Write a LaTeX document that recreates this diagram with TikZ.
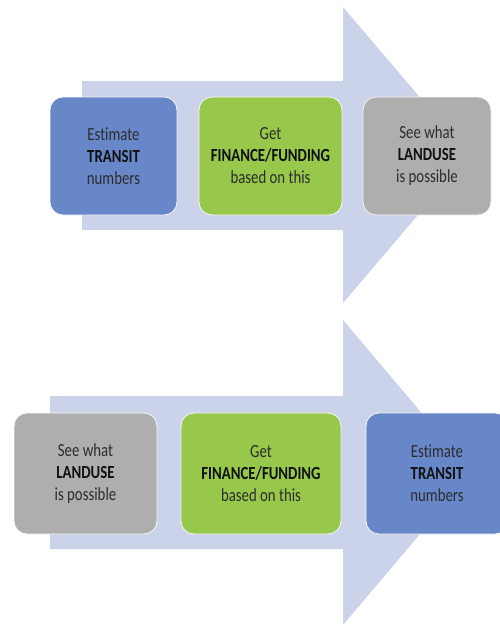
\documentclass[tikz,border=0pt]{standalone}
\usepackage{fontspec}
\setmainfont{Carlito}[FakeStretch=0.8, Ligatures={NoCommon}]
\definecolor{arrowC}{HTML}{CBD3EA}
\definecolor{blueC}{HTML}{6787C9}
\definecolor{greenC}{HTML}{97C84B}
\definecolor{greyC}{HTML}{AEAEAE}
\definecolor{txtC}{HTML}{2C2C2C}
\definecolor{boldC}{HTML}{111111}
\tikzset{
  box/.style={rounded corners=13pt, draw=white!70!black!10, line width=0.8pt,
    align=center, inner sep=0pt, text=txtC,
    font=\fontsize{18.5}{22}\selectfont},
  bigarrow/.style={fill=arrowC, draw=none}
}
\newcommand{\bw}[1]{\textbf{\textcolor{boldC}{#1}}}
\begin{document}
\begin{tikzpicture}[x=1pt,y=-1pt]
\useasboundingbox (0,0) rectangle (499,624);
% top arrow
\fill[bigarrow] (82,81) -- (343,81) -- (343,7) -- (469,155) -- (343,303) -- (343,230) -- (82,230) -- cycle;
% bottom arrow
\fill[bigarrow] (50,396) -- (343,396) -- (343,320) -- (472,472.5) -- (343,625) -- (343,549) -- (50,549) -- cycle;
% top row
\node[box, fill=blueC, minimum width=127pt, minimum height=118pt] (t1) at (113.5,156)
  {Estimate\\\bw{TRANSIT}\\numbers};
\node[box, fill=greenC, minimum width=143pt, minimum height=118pt] (t2) at (270.5,156)
  {Get\\\bw{FINANCE/FUNDING}\\based on this};
\node[box, fill=greyC, minimum width=128pt, minimum height=118pt] (t3) at (427,156)
  {See what\\\bw{LANDUSE}\\is possible};
% bottom row
\node[box, fill=greyC, minimum width=143pt, minimum height=121pt] (b1) at (85.5,473.5)
  {See what\\\bw{LANDUSE}\\is possible};
\node[box, fill=greenC, minimum width=160pt, minimum height=121pt] (b2) at (261,473.5)
  {Get\\\bw{FINANCE/FUNDING}\\based on this};
\node[box, fill=blueC, minimum width=142pt, minimum height=121pt] (b3) at (437,473.5)
  {Estimate\\\bw{TRANSIT}\\numbers};
\end{tikzpicture}
\end{document}
